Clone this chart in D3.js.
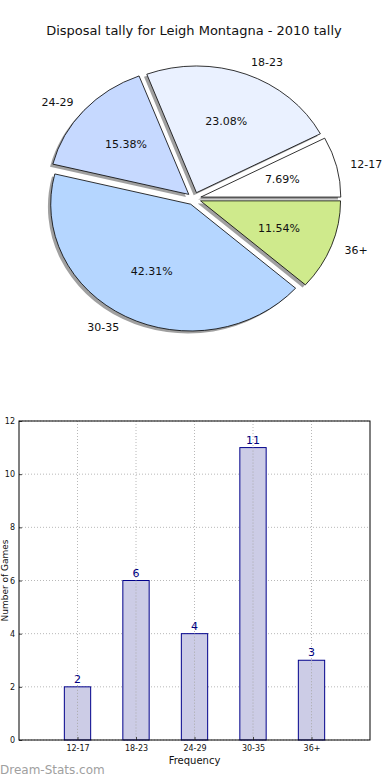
<!DOCTYPE html>
<html>
<head>
<meta charset="utf-8">
<title>Disposal tally</title>
<script src="https://d3js.org/d3.v7.min.js"></script>
<style>
  body { margin: 0; background: #fff; }
  text { font-family: "DejaVu Sans", sans-serif; }
</style>
</head>
<body>
<div id="chart"></div>
<script>
// data
const categories = ["12-17", "18-23", "24-29", "30-35", "36+"];
const counts = [2, 6, 4, 11, 3];
const pieColors = ["#ffffff", "#eaf1ff", "#c6d9ff", "#b5d6ff", "#cfea8c"];
const yTicks = [0, 2, 4, 6, 8, 10, 12];

const width = 390, height = 780;
const svg = d3.select("#chart").append("svg")
    .attr("width", width)
    .attr("height", height);

// ---- pie ----
svg.append("text")
    .attr("x", 194).attr("y", 35)
    .attr("text-anchor", "middle")
    .attr("font-size", "13px")
    .attr("fill", "#111")
    .text("Disposal tally for Leigh Montagna - 2010 tally");

const cx = 194, cy = 198.6, rx = 140, ry = 126.7, explode = 0.05;
const total = d3.sum(counts);

// matplotlib style: start at 3 o'clock, counter clockwise
const pie = d3.pie().sort(null).value(d => d)
    .startAngle(Math.PI / 2).endAngle(Math.PI / 2 - 2 * Math.PI);
const slices = pie(counts);
const arc = d3.arc().innerRadius(0).outerRadius(1);

// math angle (radians, CCW from +x) of a slice mid point
function midAngle(s) {
    const a = (s.startAngle + s.endAngle) / 2;
    return Math.PI / 2 - a;
}

const pieG = svg.append("g");

// shadows
pieG.selectAll("path.shadow")
    .data(slices)
    .join("path")
    .attr("class", "shadow")
    .attr("d", arc)
    .attr("transform", d => {
        const m = midAngle(d);
        const x = cx + rx * (explode * Math.cos(m) - 0.02);
        const y = cy - ry * (explode * Math.sin(m) - 0.02);
        return `translate(${x},${y}) scale(${rx},${ry})`;
    })
    .attr("fill", "#777")
    .attr("fill-opacity", 0.7);

pieG.selectAll("path.slice")
    .data(slices)
    .join("path")
    .attr("class", "slice")
    .attr("d", arc)
    .attr("transform", d => {
        const m = midAngle(d);
        const x = cx + rx * explode * Math.cos(m);
        const y = cy - ry * explode * Math.sin(m);
        return `translate(${x},${y}) scale(${rx},${ry})`;
    })
    .attr("fill", (d, i) => pieColors[i])
    .attr("stroke", "#000")
    .attr("stroke-width", 0.8)
    .attr("vector-effect", "non-scaling-stroke");

// category labels
pieG.selectAll("text.lab")
    .data(slices)
    .join("text")
    .attr("class", "lab")
    .attr("x", d => cx + rx * (1.1 + explode) * Math.cos(midAngle(d)))
    .attr("y", d => cy - ry * (1.1 + explode) * Math.sin(midAngle(d)))
    .attr("dy", "0.35em")
    .attr("text-anchor", d => Math.cos(midAngle(d)) > 0 ? "start" : "end")
    .attr("font-size", "11px")
    .attr("fill", "#111")
    .text((d, i) => categories[i]);

// percentages
pieG.selectAll("text.pct")
    .data(slices)
    .join("text")
    .attr("class", "pct")
    .attr("x", d => cx + rx * (0.6 + explode) * Math.cos(midAngle(d)))
    .attr("y", d => cy - ry * (0.6 + explode) * Math.sin(midAngle(d)))
    .attr("dy", "0.35em")
    .attr("text-anchor", "middle")
    .attr("font-size", "11px")
    .attr("fill", "#111")
    .text(d => (d.value / total * 100).toFixed(2) + "%");

// ---- bar chart ----
const margin = {top: 421, left: 19};
const plotW = 370 - 19, plotH = 740 - 421;
const g = svg.append("g").attr("transform", `translate(${margin.left},${margin.top})`);

const x = d3.scaleLinear().domain([-1, 5]).range([0, plotW]);
const y = d3.scaleLinear().domain([0, 12]).range([plotH, 0]);
const barW = 0.45;

// grid
g.selectAll("line.gy")
    .data(yTicks)
    .join("line")
    .attr("class", "gy")
    .attr("x1", 0).attr("x2", plotW)
    .attr("y1", d => y(d)).attr("y2", d => y(d))
    .attr("stroke", "#b8b8b8")
    .attr("stroke-dasharray", "1,2");
g.selectAll("line.gx")
    .data(categories)
    .join("line")
    .attr("class", "gx")
    .attr("x1", (d, i) => x(i)).attr("x2", (d, i) => x(i))
    .attr("y1", 0).attr("y2", plotH)
    .attr("stroke", "#b8b8b8")
    .attr("stroke-dasharray", "1,2");

// bars
g.selectAll("rect.bar")
    .data(counts)
    .join("rect")
    .attr("class", "bar")
    .attr("x", (d, i) => x(i - barW / 2))
    .attr("width", x(barW) - x(0))
    .attr("y", d => y(d))
    .attr("height", d => plotH - y(d))
    .attr("fill", "#cccce6")
    .attr("stroke", "#00008b")
    .attr("stroke-width", 1);

// grid drawn over the bars too
g.selectAll("line.gx2")
    .data(categories)
    .join("line")
    .attr("class", "gx2")
    .attr("x1", (d, i) => x(i)).attr("x2", (d, i) => x(i))
    .attr("y1", (d, i) => y(counts[i])).attr("y2", plotH)
    .attr("stroke", "#aaaaaa")
    .attr("stroke-dasharray", "1,2");

// value labels
g.selectAll("text.val")
    .data(counts)
    .join("text")
    .attr("class", "val")
    .attr("x", (d, i) => x(i))
    .attr("y", d => y(d) - 4)
    .attr("text-anchor", "middle")
    .attr("font-size", "11px")
    .attr("fill", "#000080")
    .text(d => d);

// axes
const xAxis = d3.axisBottom(x).tickValues(d3.range(categories.length))
    .tickFormat(i => categories[i]).tickSize(-3).tickPadding(5);
const yAxis = d3.axisLeft(y).tickValues(yTicks).tickSize(-3).tickPadding(4);

g.append("g").attr("transform", `translate(0,${plotH})`).call(xAxis)
    .call(a => a.select(".domain").remove())
    .call(a => a.selectAll("text").attr("font-size", "8px").attr("fill", "#111").attr("font-family", "DejaVu Sans"))
    .call(a => a.selectAll("line").attr("stroke", "#444"));
g.append("g").call(yAxis)
    .call(a => a.select(".domain").remove())
    .call(a => a.selectAll("text").attr("font-size", "8px").attr("fill", "#111").attr("font-family", "DejaVu Sans"))
    .call(a => a.selectAll("line").attr("stroke", "#444"));

// frame
g.append("rect")
    .attr("width", plotW).attr("height", plotH)
    .attr("fill", "none")
    .attr("stroke", "#000")
    .attr("stroke-width", 1);

g.append("text")
    .attr("x", plotW / 2).attr("y", plotH + 24)
    .attr("text-anchor", "middle")
    .attr("font-size", "10px")
    .attr("fill", "#111")
    .text("Frequency");

svg.append("text")
    .attr("transform", `translate(8,${margin.top + plotH / 2}) rotate(-90)`)
    .attr("text-anchor", "middle")
    .attr("font-size", "9px")
    .attr("fill", "#111")
    .text("Number of Games");

svg.append("text")
    .attr("x", 0).attr("y", 774)
    .attr("font-size", "12px")
    .attr("fill", "#a0a0a0")
    .text("Dream-Stats.com");
</script>
</body>
</html>
